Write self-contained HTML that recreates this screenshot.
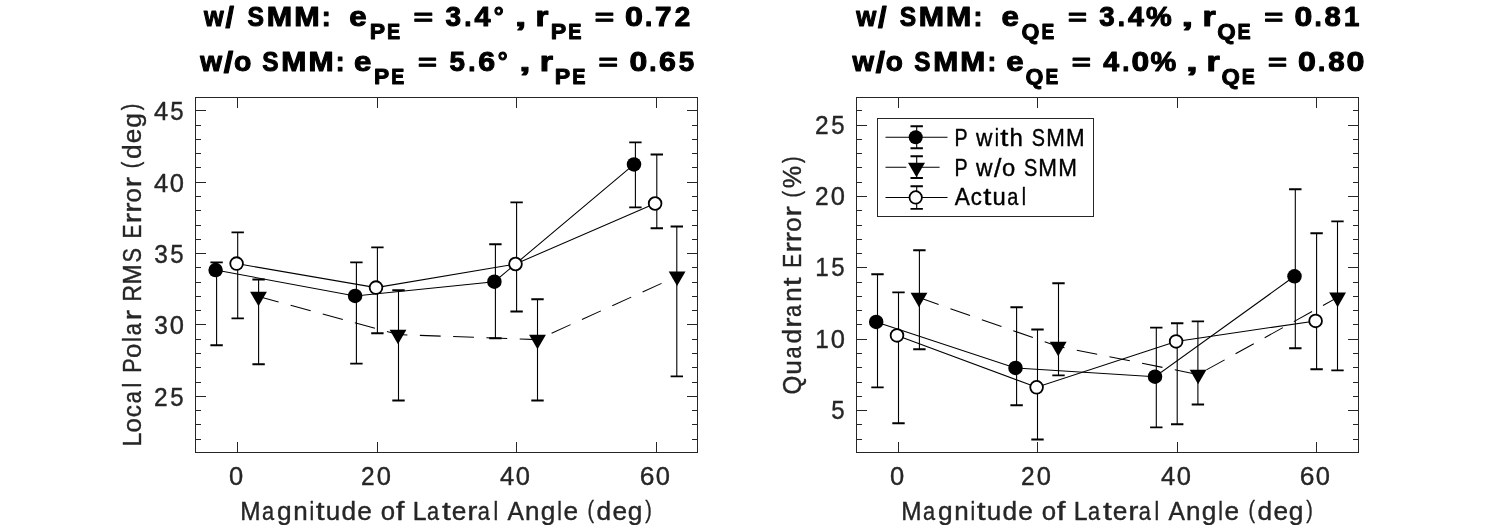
<!DOCTYPE html>
<html><head><meta charset="utf-8"><title>Error comparison</title>
<style>html,body{margin:0;padding:0;background:#fff}svg{display:block;will-change:transform}text{font-family:"Liberation Sans",sans-serif;font-kerning:none;white-space:pre;stroke-linejoin:round}</style>
</head><body>
<svg width="1500" height="525" viewBox="0 0 1500 525">
<rect width="1500" height="525" fill="#fff"/>
<rect x="195.5" y="97.5" width="502.0" height="355.0" fill="#fff" stroke="#262626" stroke-width="1"/>
<path d="M195.5 110.5h10.5M697.5 110.5h-10.5M195.5 125.5h5.5M697.5 125.5h-5.5M195.5 139.5h5.5M697.5 139.5h-5.5M195.5 153.5h5.5M697.5 153.5h-5.5M195.5 167.5h5.5M697.5 167.5h-5.5M195.5 182.5h10.5M697.5 182.5h-10.5M195.5 196.5h5.5M697.5 196.5h-5.5M195.5 210.5h5.5M697.5 210.5h-5.5M195.5 225.5h5.5M697.5 225.5h-5.5M195.5 239.5h5.5M697.5 239.5h-5.5M195.5 253.5h10.5M697.5 253.5h-10.5M195.5 267.5h5.5M697.5 267.5h-5.5M195.5 282.5h5.5M697.5 282.5h-5.5M195.5 296.5h5.5M697.5 296.5h-5.5M195.5 310.5h5.5M697.5 310.5h-5.5M195.5 324.5h10.5M697.5 324.5h-10.5M195.5 339.5h5.5M697.5 339.5h-5.5M195.5 353.5h5.5M697.5 353.5h-5.5M195.5 367.5h5.5M697.5 367.5h-5.5M195.5 382.5h5.5M697.5 382.5h-5.5M195.5 396.5h10.5M697.5 396.5h-10.5M195.5 410.5h5.5M697.5 410.5h-5.5M195.5 424.5h5.5M697.5 424.5h-5.5M195.5 439.5h5.5M697.5 439.5h-5.5M237.5 452.5v-10.5M237.5 97.5v10.5M377.5 452.5v-10.5M377.5 97.5v10.5M516.5 452.5v-10.5M516.5 97.5v10.5M656.5 452.5v-10.5M656.5 97.5v10.5" stroke="#262626" stroke-width="1" fill="none"/>
<polyline points="215.6,270.1 355.1,295.9 494.4,281.7 634.0,164.4" stroke="#000" stroke-width="1.05" fill="none"/>
<path d="M216.6 262.4V345.3M356.4 262.4V363.6M495.4 244.3V338.3M635.4 142.4V207.4" stroke="#000" stroke-width="1.1" fill="none"/>
<path d="M210.40 262.4h12.4M210.40 345.3h12.4M350.20 262.4h12.4M350.20 363.6h12.4M489.20 244.3h12.4M489.20 338.3h12.4M629.20 142.4h12.4M629.20 207.4h12.4" stroke="#000" stroke-width="1.9" fill="none"/>
<circle cx="215.6" cy="270.1" r="7.25" fill="#000"/>
<circle cx="355.1" cy="295.9" r="7.25" fill="#000"/>
<circle cx="494.4" cy="281.7" r="7.25" fill="#000"/>
<circle cx="634.0" cy="164.4" r="7.25" fill="#000"/>
<polyline points="258.5,296.5 398.0,334.6 537.5,339.6 677.1,276.3" stroke="#000" stroke-width="1.05" fill="none" stroke-dasharray="20.8 12.5"/>
<path d="M258.6 279.5V364.2M398.5 290.3V400.5M537.5 299.3V400.5M676.8 226.5V376.4" stroke="#000" stroke-width="1.1" fill="none"/>
<path d="M252.40 279.5h12.4M252.40 364.2h12.4M392.30 290.3h12.4M392.30 400.5h12.4M531.30 299.3h12.4M531.30 400.5h12.4M670.60 226.5h12.4M670.60 376.4h12.4" stroke="#000" stroke-width="1.9" fill="none"/>
<path d="M250.10 291.63h16.8L258.50 306.23z" fill="#000"/>
<path d="M389.60 329.73h16.8L398.00 344.33z" fill="#000"/>
<path d="M529.10 334.73h16.8L537.50 349.33z" fill="#000"/>
<path d="M668.70 271.43h16.8L677.10 286.03z" fill="#000"/>
<polyline points="236.6,263.6 376.0,287.6 515.5,264.0 655.1,203.5" stroke="#000" stroke-width="1.05" fill="none"/>
<path d="M237.7 232.4V318.4M377.4 247.4V333.3M516.6 202.4V311.5M656.8 154.5V228.3" stroke="#000" stroke-width="1.1" fill="none"/>
<path d="M231.50 232.4h12.4M231.50 318.4h12.4M371.20 247.4h12.4M371.20 333.3h12.4M510.40 202.4h12.4M510.40 311.5h12.4M650.60 154.5h12.4M650.60 228.3h12.4" stroke="#000" stroke-width="1.9" fill="none"/>
<circle cx="236.6" cy="263.6" r="6.35" fill="#fff" stroke="#000" stroke-width="1.8"/>
<circle cx="376.0" cy="287.6" r="6.35" fill="#fff" stroke="#000" stroke-width="1.8"/>
<circle cx="515.5" cy="264.0" r="6.35" fill="#fff" stroke="#000" stroke-width="1.8"/>
<circle cx="655.1" cy="203.5" r="6.35" fill="#fff" stroke="#000" stroke-width="1.8"/>
<rect x="856.5" y="97.5" width="502.0" height="355.0" fill="#fff" stroke="#262626" stroke-width="1"/>
<path d="M856.5 110.5h5.5M1358.5 110.5h-5.5M856.5 125.5h10.5M1358.5 125.5h-10.5M856.5 139.5h5.5M1358.5 139.5h-5.5M856.5 153.5h5.5M1358.5 153.5h-5.5M856.5 167.5h5.5M1358.5 167.5h-5.5M856.5 182.5h5.5M1358.5 182.5h-5.5M856.5 196.5h10.5M1358.5 196.5h-10.5M856.5 210.5h5.5M1358.5 210.5h-5.5M856.5 225.5h5.5M1358.5 225.5h-5.5M856.5 239.5h5.5M1358.5 239.5h-5.5M856.5 253.5h5.5M1358.5 253.5h-5.5M856.5 267.5h10.5M1358.5 267.5h-10.5M856.5 282.5h5.5M1358.5 282.5h-5.5M856.5 296.5h5.5M1358.5 296.5h-5.5M856.5 310.5h5.5M1358.5 310.5h-5.5M856.5 324.5h5.5M1358.5 324.5h-5.5M856.5 339.5h10.5M1358.5 339.5h-10.5M856.5 353.5h5.5M1358.5 353.5h-5.5M856.5 367.5h5.5M1358.5 367.5h-5.5M856.5 382.5h5.5M1358.5 382.5h-5.5M856.5 396.5h5.5M1358.5 396.5h-5.5M856.5 410.5h10.5M1358.5 410.5h-10.5M856.5 424.5h5.5M1358.5 424.5h-5.5M856.5 439.5h5.5M1358.5 439.5h-5.5M898.5 452.5v-10.5M898.5 97.5v10.5M1037.5 452.5v-10.5M1037.5 97.5v10.5M1177.5 452.5v-10.5M1177.5 97.5v10.5M1316.5 452.5v-10.5M1316.5 97.5v10.5" stroke="#262626" stroke-width="1" fill="none"/>
<polyline points="876.2,321.9 1015.5,367.9 1155.0,376.7 1294.5,276.3" stroke="#000" stroke-width="1.05" fill="none"/>
<path d="M877.5 274.3V387.4M1016.6 307.3V405.3M1156.3 327.6V427.4M1295.3 189.3V348.3" stroke="#000" stroke-width="1.1" fill="none"/>
<path d="M871.30 274.3h12.4M871.30 387.4h12.4M1010.40 307.3h12.4M1010.40 405.3h12.4M1150.10 327.6h12.4M1150.10 427.4h12.4M1289.10 189.3h12.4M1289.10 348.3h12.4" stroke="#000" stroke-width="1.9" fill="none"/>
<circle cx="876.2" cy="321.9" r="7.25" fill="#000"/>
<circle cx="1015.5" cy="367.9" r="7.25" fill="#000"/>
<circle cx="1155.0" cy="376.7" r="7.25" fill="#000"/>
<circle cx="1294.5" cy="276.3" r="7.25" fill="#000"/>
<polyline points="919.0,297.6 1058.2,346.5 1198.1,374.5 1337.6,297.4" stroke="#000" stroke-width="1.05" fill="none" stroke-dasharray="20.8 12.5"/>
<path d="M919.4 250.3V349.2M1058.5 283.3V375.4M1197.9 321.4V404.5M1337.5 221.4V370.4" stroke="#000" stroke-width="1.1" fill="none"/>
<path d="M913.20 250.3h12.4M913.20 349.2h12.4M1052.30 283.3h12.4M1052.30 375.4h12.4M1191.70 321.4h12.4M1191.70 404.5h12.4M1331.30 221.4h12.4M1331.30 370.4h12.4" stroke="#000" stroke-width="1.9" fill="none"/>
<path d="M910.60 292.73h16.8L919.00 307.33z" fill="#000"/>
<path d="M1049.80 341.63h16.8L1058.20 356.23z" fill="#000"/>
<path d="M1189.70 369.63h16.8L1198.10 384.23z" fill="#000"/>
<path d="M1329.20 292.53h16.8L1337.60 307.13z" fill="#000"/>
<polyline points="897.0,335.4 1036.6,387.3 1176.1,341.4 1315.6,320.9" stroke="#000" stroke-width="1.05" fill="none"/>
<path d="M898.5 292.4V423.3M1037.5 329.5V439.5M1177.2 323.3V424.3M1316.6 233.3V369.3" stroke="#000" stroke-width="1.1" fill="none"/>
<path d="M892.30 292.4h12.4M892.30 423.3h12.4M1031.30 329.5h12.4M1031.30 439.5h12.4M1171.00 323.3h12.4M1171.00 424.3h12.4M1310.40 233.3h12.4M1310.40 369.3h12.4" stroke="#000" stroke-width="1.9" fill="none"/>
<circle cx="897.0" cy="335.4" r="6.35" fill="#fff" stroke="#000" stroke-width="1.8"/>
<circle cx="1036.6" cy="387.3" r="6.35" fill="#fff" stroke="#000" stroke-width="1.8"/>
<circle cx="1176.1" cy="341.4" r="6.35" fill="#fff" stroke="#000" stroke-width="1.8"/>
<circle cx="1315.6" cy="320.9" r="6.35" fill="#fff" stroke="#000" stroke-width="1.8"/>
<rect x="877.5" y="118.5" width="216" height="98" fill="#fff" stroke="#262626" stroke-width="1"/>
<path d="M885.5 137.2H947.5" stroke="#000" stroke-width="1.05"/>
<path d="M916.7 126.3V148.3" stroke="#000" stroke-width="1.1" fill="none"/>
<path d="M910.50 126.3h12.4M910.50 148.3h12.4" stroke="#000" stroke-width="1.9" fill="none"/>
<circle cx="915.7" cy="137.2" r="7" fill="#000"/>
<path d="M885.5 167.2H947.5" stroke="#000" stroke-width="1.05" stroke-dasharray="20.8 12.5"/>
<path d="M916.7 156.2V178.0" stroke="#000" stroke-width="1.1" fill="none"/>
<path d="M910.50 156.2h12.4M910.50 178.0h12.4" stroke="#000" stroke-width="1.9" fill="none"/>
<path d="M908.00 162.73h17.0L916.50 177.33z" fill="#000"/>
<path d="M885.5 197.4H947.5" stroke="#000" stroke-width="1.05"/>
<path d="M916.7 186.2V208.9" stroke="#000" stroke-width="1.1" fill="none"/>
<path d="M910.50 186.2h12.4M910.50 208.9h12.4" stroke="#000" stroke-width="1.9" fill="none"/>
<circle cx="915.7" cy="197.4" r="6.2" fill="#fff" stroke="#000" stroke-width="1.8"/>
<text transform="translate(955.80 145.70) scale(1 0.9750)" font-size="24.4" fill="#000" stroke="#000" stroke-width="0.4"><tspan x="-1.41" textLength="13.08" lengthAdjust="spacingAndGlyphs">P</tspan></text>
<text transform="translate(975.71 145.70) scale(1 0.9750)" font-size="24.4" fill="#000" stroke="#000" stroke-width="0.4"><tspan x="0.23" textLength="16.41" lengthAdjust="spacingAndGlyphs">w</tspan><tspan x="18.96" textLength="4.22" lengthAdjust="spacingAndGlyphs">i</tspan><tspan x="24.64" textLength="8.11" lengthAdjust="spacingAndGlyphs">t</tspan><tspan x="33.91" textLength="13.37" lengthAdjust="spacingAndGlyphs">h</tspan></text>
<text transform="translate(1032.42 145.70) scale(1 0.9750)" font-size="24.4" fill="#000" stroke="#000" stroke-width="0.4"><tspan x="-0.70" textLength="13.23" lengthAdjust="spacingAndGlyphs">S</tspan><tspan x="13.72" textLength="18.62" lengthAdjust="spacingAndGlyphs">M</tspan><tspan x="33.59" textLength="18.62" lengthAdjust="spacingAndGlyphs">M</tspan></text>
<text transform="translate(955.80 175.50) scale(1 0.9750)" font-size="24.4" fill="#000" stroke="#000" stroke-width="0.4"><tspan x="-1.42" textLength="13.15" lengthAdjust="spacingAndGlyphs">P</tspan></text>
<text transform="translate(975.80 175.50) scale(1 0.9750)" font-size="24.4" fill="#000" stroke="#000" stroke-width="0.4"><tspan x="0.23" textLength="16.49" lengthAdjust="spacingAndGlyphs">w</tspan></text>
<text transform="translate(975.80 177.39) scale(1 1.0325)" font-size="24.4" fill="#000" stroke="#000" stroke-width="0.4"><tspan x="18.15" textLength="7.39" lengthAdjust="spacingAndGlyphs">/</tspan></text>
<text transform="translate(975.80 175.50) scale(1 0.9750)" font-size="24.4" fill="#000" stroke="#000" stroke-width="0.4"><tspan x="26.22" textLength="13.21" lengthAdjust="spacingAndGlyphs">o</tspan></text>
<text transform="translate(1024.58 175.50) scale(1 0.9750)" font-size="24.4" fill="#000" stroke="#000" stroke-width="0.4"><tspan x="-0.70" textLength="13.29" lengthAdjust="spacingAndGlyphs">S</tspan><tspan x="13.79" textLength="18.72" lengthAdjust="spacingAndGlyphs">M</tspan><tspan x="33.75" textLength="18.72" lengthAdjust="spacingAndGlyphs">M</tspan></text>
<text transform="translate(954.70 205.20) scale(1 0.9750)" font-size="24.4" fill="#000" stroke="#000" stroke-width="0.4"><tspan x="0.16" textLength="15.07" lengthAdjust="spacingAndGlyphs">A</tspan><tspan x="16.10" textLength="11.09" lengthAdjust="spacingAndGlyphs">c</tspan><tspan x="28.61" textLength="8.11" lengthAdjust="spacingAndGlyphs">t</tspan><tspan x="37.86" textLength="13.28" lengthAdjust="spacingAndGlyphs">u</tspan><tspan x="52.59" textLength="11.08" lengthAdjust="spacingAndGlyphs">a</tspan><tspan x="67.05" textLength="4.22" lengthAdjust="spacingAndGlyphs">l</tspan></text>
<text transform="translate(154.31 120.25) scale(1 0.9777)" font-size="26.5" fill="#262626" stroke="#262626" stroke-width="0.4"><tspan x="-0.39" textLength="14.22" lengthAdjust="spacingAndGlyphs">4</tspan><tspan x="15.85" textLength="13.36" lengthAdjust="spacingAndGlyphs">5</tspan></text>
<text transform="translate(154.31 191.62) scale(1 0.9777)" font-size="26.5" fill="#262626" stroke="#262626" stroke-width="0.4"><tspan x="-0.39" textLength="14.22" lengthAdjust="spacingAndGlyphs">4</tspan><tspan x="15.54" textLength="14.19" lengthAdjust="spacingAndGlyphs">0</tspan></text>
<text transform="translate(154.99 263.00) scale(1 0.9777)" font-size="26.5" fill="#262626" stroke="#262626" stroke-width="0.4"><tspan x="-0.73" textLength="13.61" lengthAdjust="spacingAndGlyphs">3</tspan><tspan x="15.17" textLength="13.36" lengthAdjust="spacingAndGlyphs">5</tspan></text>
<text transform="translate(154.99 334.38) scale(1 0.9777)" font-size="26.5" fill="#262626" stroke="#262626" stroke-width="0.4"><tspan x="-0.73" textLength="13.61" lengthAdjust="spacingAndGlyphs">3</tspan><tspan x="14.85" textLength="14.19" lengthAdjust="spacingAndGlyphs">0</tspan></text>
<text transform="translate(154.92 405.75) scale(1 0.9777)" font-size="26.5" fill="#262626" stroke="#262626" stroke-width="0.4"><tspan x="-1.03" textLength="13.64" lengthAdjust="spacingAndGlyphs">2</tspan><tspan x="15.24" textLength="13.36" lengthAdjust="spacingAndGlyphs">5</tspan></text>
<text transform="translate(815.92 133.73) scale(1 0.9777)" font-size="26.5" fill="#262626" stroke="#262626" stroke-width="0.4"><tspan x="-1.03" textLength="13.64" lengthAdjust="spacingAndGlyphs">2</tspan><tspan x="15.24" textLength="13.36" lengthAdjust="spacingAndGlyphs">5</tspan></text>
<text transform="translate(815.92 205.10) scale(1 0.9777)" font-size="26.5" fill="#262626" stroke="#262626" stroke-width="0.4"><tspan x="-1.03" textLength="13.64" lengthAdjust="spacingAndGlyphs">2</tspan><tspan x="14.93" textLength="14.19" lengthAdjust="spacingAndGlyphs">0</tspan></text>
<text transform="translate(816.84 276.48) scale(1 0.9777)" font-size="26.5" fill="#262626" stroke="#262626" stroke-width="0.4"><tspan x="-1.65" textLength="13.48" lengthAdjust="spacingAndGlyphs">1</tspan><tspan x="14.33" textLength="13.36" lengthAdjust="spacingAndGlyphs">5</tspan></text>
<text transform="translate(816.84 347.85) scale(1 0.9777)" font-size="26.5" fill="#262626" stroke="#262626" stroke-width="0.4"><tspan x="-1.65" textLength="13.48" lengthAdjust="spacingAndGlyphs">1</tspan><tspan x="14.01" textLength="14.19" lengthAdjust="spacingAndGlyphs">0</tspan></text>
<text transform="translate(831.92 419.23) scale(1 0.9777)" font-size="26.5" fill="#262626" stroke="#262626" stroke-width="0.4"><tspan x="-0.76" textLength="13.36" lengthAdjust="spacingAndGlyphs">5</tspan></text>
<text transform="translate(229.70 485.20) scale(1 0.9777)" font-size="26.5" fill="#262626" stroke="#262626" stroke-width="0.4"><tspan x="-0.80" textLength="14.19" lengthAdjust="spacingAndGlyphs">0</tspan></text>
<text transform="translate(361.93 485.20) scale(1 0.9777)" font-size="26.5" fill="#262626" stroke="#262626" stroke-width="0.4"><tspan x="-1.03" textLength="13.64" lengthAdjust="spacingAndGlyphs">2</tspan><tspan x="14.93" textLength="14.19" lengthAdjust="spacingAndGlyphs">0</tspan></text>
<text transform="translate(500.31 485.20) scale(1 0.9777)" font-size="26.5" fill="#262626" stroke="#262626" stroke-width="0.4"><tspan x="-0.39" textLength="14.22" lengthAdjust="spacingAndGlyphs">4</tspan><tspan x="15.54" textLength="14.19" lengthAdjust="spacingAndGlyphs">0</tspan></text>
<text transform="translate(640.84 485.20) scale(1 0.9777)" font-size="26.5" fill="#262626" stroke="#262626" stroke-width="0.4"><tspan x="-1.14" textLength="14.69" lengthAdjust="spacingAndGlyphs">6</tspan><tspan x="15.01" textLength="14.19" lengthAdjust="spacingAndGlyphs">0</tspan></text>
<text transform="translate(890.70 485.20) scale(1 0.9777)" font-size="26.5" fill="#262626" stroke="#262626" stroke-width="0.4"><tspan x="-0.80" textLength="14.19" lengthAdjust="spacingAndGlyphs">0</tspan></text>
<text transform="translate(1021.93 485.20) scale(1 0.9777)" font-size="26.5" fill="#262626" stroke="#262626" stroke-width="0.4"><tspan x="-1.03" textLength="13.64" lengthAdjust="spacingAndGlyphs">2</tspan><tspan x="14.93" textLength="14.19" lengthAdjust="spacingAndGlyphs">0</tspan></text>
<text transform="translate(1161.31 485.20) scale(1 0.9777)" font-size="26.5" fill="#262626" stroke="#262626" stroke-width="0.4"><tspan x="-0.39" textLength="14.22" lengthAdjust="spacingAndGlyphs">4</tspan><tspan x="15.54" textLength="14.19" lengthAdjust="spacingAndGlyphs">0</tspan></text>
<text transform="translate(1300.84 485.20) scale(1 0.9777)" font-size="26.5" fill="#262626" stroke="#262626" stroke-width="0.4"><tspan x="-1.14" textLength="14.69" lengthAdjust="spacingAndGlyphs">6</tspan><tspan x="15.01" textLength="14.19" lengthAdjust="spacingAndGlyphs">0</tspan></text>
<text transform="translate(242.10 519.50) scale(1 0.9760)" font-size="26.6" fill="#262626" stroke="#262626" stroke-width="0.4"><tspan x="-1.80" textLength="20.28" lengthAdjust="spacingAndGlyphs">M</tspan><tspan x="19.91" textLength="12.08" lengthAdjust="spacingAndGlyphs">a</tspan><tspan x="34.94" textLength="14.63" lengthAdjust="spacingAndGlyphs">g</tspan><tspan x="51.09" textLength="14.48" lengthAdjust="spacingAndGlyphs">n</tspan><tspan x="67.35" textLength="4.67" lengthAdjust="spacingAndGlyphs">i</tspan><tspan x="73.54" textLength="8.86" lengthAdjust="spacingAndGlyphs">t</tspan><tspan x="83.60" textLength="14.48" lengthAdjust="spacingAndGlyphs">u</tspan><tspan x="99.30" textLength="14.63" lengthAdjust="spacingAndGlyphs">d</tspan><tspan x="115.17" textLength="14.56" lengthAdjust="spacingAndGlyphs">e</tspan></text>
<text transform="translate(381.53 519.50) scale(1 0.9760)" font-size="26.6" fill="#262626" stroke="#262626" stroke-width="0.4"><tspan x="-0.88" textLength="14.32" lengthAdjust="spacingAndGlyphs">o</tspan><tspan x="14.26" textLength="8.71" lengthAdjust="spacingAndGlyphs">f</tspan></text>
<text transform="translate(414.68 519.50) scale(1 0.9760)" font-size="26.6" fill="#262626" stroke="#262626" stroke-width="0.4"><tspan x="-1.84" textLength="13.81" lengthAdjust="spacingAndGlyphs">L</tspan><tspan x="12.26" textLength="12.08" lengthAdjust="spacingAndGlyphs">a</tspan><tspan x="27.21" textLength="8.86" lengthAdjust="spacingAndGlyphs">t</tspan><tspan x="37.09" textLength="14.56" lengthAdjust="spacingAndGlyphs">e</tspan><tspan x="52.47" textLength="10.14" lengthAdjust="spacingAndGlyphs">r</tspan><tspan x="63.09" textLength="12.08" lengthAdjust="spacingAndGlyphs">a</tspan><tspan x="78.78" textLength="4.67" lengthAdjust="spacingAndGlyphs">l</tspan></text>
<text transform="translate(507.41 519.50) scale(1 0.9760)" font-size="26.6" fill="#262626" stroke="#262626" stroke-width="0.4"><tspan x="0.15" textLength="16.41" lengthAdjust="spacingAndGlyphs">A</tspan><tspan x="17.66" textLength="14.48" lengthAdjust="spacingAndGlyphs">n</tspan><tspan x="33.25" textLength="14.63" lengthAdjust="spacingAndGlyphs">g</tspan><tspan x="49.80" textLength="4.67" lengthAdjust="spacingAndGlyphs">l</tspan><tspan x="56.08" textLength="14.56" lengthAdjust="spacingAndGlyphs">e</tspan></text>
<text transform="translate(588.52 517.93) scale(1 0.8841)" font-size="26.6" fill="#262626" stroke="#262626" stroke-width="0.4"><tspan x="-1.02" textLength="6.54" lengthAdjust="spacingAndGlyphs">(</tspan></text>
<text transform="translate(588.52 519.50) scale(1 0.9760)" font-size="26.6" fill="#262626" stroke="#262626" stroke-width="0.4"><tspan x="8.09" textLength="14.63" lengthAdjust="spacingAndGlyphs">d</tspan><tspan x="23.96" textLength="14.56" lengthAdjust="spacingAndGlyphs">e</tspan><tspan x="39.36" textLength="14.63" lengthAdjust="spacingAndGlyphs">g</tspan></text>
<text transform="translate(588.52 517.93) scale(1 0.8841)" font-size="26.6" fill="#262626" stroke="#262626" stroke-width="0.4"><tspan x="56.86" textLength="6.54" lengthAdjust="spacingAndGlyphs">)</tspan></text>
<text transform="translate(903.10 519.50) scale(1 0.9760)" font-size="26.6" fill="#262626" stroke="#262626" stroke-width="0.4"><tspan x="-1.80" textLength="20.28" lengthAdjust="spacingAndGlyphs">M</tspan><tspan x="19.91" textLength="12.08" lengthAdjust="spacingAndGlyphs">a</tspan><tspan x="34.94" textLength="14.63" lengthAdjust="spacingAndGlyphs">g</tspan><tspan x="51.09" textLength="14.48" lengthAdjust="spacingAndGlyphs">n</tspan><tspan x="67.35" textLength="4.67" lengthAdjust="spacingAndGlyphs">i</tspan><tspan x="73.54" textLength="8.86" lengthAdjust="spacingAndGlyphs">t</tspan><tspan x="83.60" textLength="14.48" lengthAdjust="spacingAndGlyphs">u</tspan><tspan x="99.30" textLength="14.63" lengthAdjust="spacingAndGlyphs">d</tspan><tspan x="115.17" textLength="14.56" lengthAdjust="spacingAndGlyphs">e</tspan></text>
<text transform="translate(1042.53 519.50) scale(1 0.9760)" font-size="26.6" fill="#262626" stroke="#262626" stroke-width="0.4"><tspan x="-0.88" textLength="14.32" lengthAdjust="spacingAndGlyphs">o</tspan><tspan x="14.26" textLength="8.71" lengthAdjust="spacingAndGlyphs">f</tspan></text>
<text transform="translate(1075.68 519.50) scale(1 0.9760)" font-size="26.6" fill="#262626" stroke="#262626" stroke-width="0.4"><tspan x="-1.84" textLength="13.81" lengthAdjust="spacingAndGlyphs">L</tspan><tspan x="12.26" textLength="12.08" lengthAdjust="spacingAndGlyphs">a</tspan><tspan x="27.21" textLength="8.86" lengthAdjust="spacingAndGlyphs">t</tspan><tspan x="37.09" textLength="14.56" lengthAdjust="spacingAndGlyphs">e</tspan><tspan x="52.47" textLength="10.14" lengthAdjust="spacingAndGlyphs">r</tspan><tspan x="63.09" textLength="12.08" lengthAdjust="spacingAndGlyphs">a</tspan><tspan x="78.78" textLength="4.67" lengthAdjust="spacingAndGlyphs">l</tspan></text>
<text transform="translate(1168.41 519.50) scale(1 0.9760)" font-size="26.6" fill="#262626" stroke="#262626" stroke-width="0.4"><tspan x="0.15" textLength="16.41" lengthAdjust="spacingAndGlyphs">A</tspan><tspan x="17.66" textLength="14.48" lengthAdjust="spacingAndGlyphs">n</tspan><tspan x="33.25" textLength="14.63" lengthAdjust="spacingAndGlyphs">g</tspan><tspan x="49.80" textLength="4.67" lengthAdjust="spacingAndGlyphs">l</tspan><tspan x="56.08" textLength="14.56" lengthAdjust="spacingAndGlyphs">e</tspan></text>
<text transform="translate(1249.52 517.93) scale(1 0.8841)" font-size="26.6" fill="#262626" stroke="#262626" stroke-width="0.4"><tspan x="-1.02" textLength="6.54" lengthAdjust="spacingAndGlyphs">(</tspan></text>
<text transform="translate(1249.52 519.50) scale(1 0.9760)" font-size="26.6" fill="#262626" stroke="#262626" stroke-width="0.4"><tspan x="8.09" textLength="14.63" lengthAdjust="spacingAndGlyphs">d</tspan><tspan x="23.96" textLength="14.56" lengthAdjust="spacingAndGlyphs">e</tspan><tspan x="39.36" textLength="14.63" lengthAdjust="spacingAndGlyphs">g</tspan></text>
<text transform="translate(1249.52 517.93) scale(1 0.8841)" font-size="26.6" fill="#262626" stroke="#262626" stroke-width="0.4"><tspan x="56.86" textLength="6.54" lengthAdjust="spacingAndGlyphs">)</tspan></text>
<text transform="translate(140.70 444.60) rotate(-90) scale(1 0.9760)" font-size="26.6" fill="#262626" stroke="#262626" stroke-width="0.4"><tspan x="-1.84" textLength="13.85" lengthAdjust="spacingAndGlyphs">L</tspan><tspan x="12.02" textLength="14.37" lengthAdjust="spacingAndGlyphs">o</tspan><tspan x="27.43" textLength="12.13" lengthAdjust="spacingAndGlyphs">c</tspan><tspan x="41.45" textLength="12.12" lengthAdjust="spacingAndGlyphs">a</tspan><tspan x="57.19" textLength="4.69" lengthAdjust="spacingAndGlyphs">l</tspan></text>
<text transform="translate(140.70 371.14) rotate(-90) scale(1 0.9760)" font-size="26.6" fill="#262626" stroke="#262626" stroke-width="0.4"><tspan x="-1.56" textLength="14.30" lengthAdjust="spacingAndGlyphs">P</tspan><tspan x="13.17" textLength="14.37" lengthAdjust="spacingAndGlyphs">o</tspan><tspan x="29.17" textLength="4.69" lengthAdjust="spacingAndGlyphs">l</tspan><tspan x="35.78" textLength="12.12" lengthAdjust="spacingAndGlyphs">a</tspan><tspan x="50.83" textLength="10.17" lengthAdjust="spacingAndGlyphs">r</tspan></text>
<text transform="translate(140.70 300.00) rotate(-90) scale(1 0.9760)" font-size="26.6" fill="#262626" stroke="#262626" stroke-width="0.4"><tspan x="-1.71" textLength="16.85" lengthAdjust="spacingAndGlyphs">R</tspan><tspan x="15.63" textLength="20.35" lengthAdjust="spacingAndGlyphs">M</tspan><tspan x="37.50" textLength="14.46" lengthAdjust="spacingAndGlyphs">S</tspan></text>
<text transform="translate(140.70 237.00) rotate(-90) scale(1 0.9760)" font-size="26.6" fill="#262626" stroke="#262626" stroke-width="0.4"><tspan x="-1.52" textLength="14.01" lengthAdjust="spacingAndGlyphs">E</tspan><tspan x="13.84" textLength="10.17" lengthAdjust="spacingAndGlyphs">r</tspan><tspan x="24.16" textLength="10.17" lengthAdjust="spacingAndGlyphs">r</tspan><tspan x="34.53" textLength="14.37" lengthAdjust="spacingAndGlyphs">o</tspan><tspan x="49.83" textLength="10.17" lengthAdjust="spacingAndGlyphs">r</tspan></text>
<text transform="translate(139.13 167.17) rotate(-90) scale(1 0.8841)" font-size="26.6" fill="#262626" stroke="#262626" stroke-width="0.4"><tspan x="-1.02" textLength="6.56" lengthAdjust="spacingAndGlyphs">(</tspan></text>
<text transform="translate(140.70 167.17) rotate(-90) scale(1 0.9760)" font-size="26.6" fill="#262626" stroke="#262626" stroke-width="0.4"><tspan x="8.11" textLength="14.68" lengthAdjust="spacingAndGlyphs">d</tspan><tspan x="24.03" textLength="14.60" lengthAdjust="spacingAndGlyphs">e</tspan><tspan x="39.48" textLength="14.68" lengthAdjust="spacingAndGlyphs">g</tspan></text>
<text transform="translate(139.13 167.17) rotate(-90) scale(1 0.8841)" font-size="26.6" fill="#262626" stroke="#262626" stroke-width="0.4"><tspan x="57.03" textLength="6.56" lengthAdjust="spacingAndGlyphs">)</tspan></text>
<text transform="translate(801.30 393.60) rotate(-90) scale(1 0.9760)" font-size="26.6" fill="#262626" stroke="#262626" stroke-width="0.4"><tspan x="-0.95" textLength="18.83" lengthAdjust="spacingAndGlyphs">Q</tspan><tspan x="18.97" textLength="14.51" lengthAdjust="spacingAndGlyphs">u</tspan><tspan x="35.00" textLength="12.11" lengthAdjust="spacingAndGlyphs">a</tspan><tspan x="50.06" textLength="14.66" lengthAdjust="spacingAndGlyphs">d</tspan><tspan x="65.96" textLength="10.17" lengthAdjust="spacingAndGlyphs">r</tspan><tspan x="76.60" textLength="12.11" lengthAdjust="spacingAndGlyphs">a</tspan><tspan x="91.93" textLength="14.51" lengthAdjust="spacingAndGlyphs">n</tspan><tspan x="107.46" textLength="8.88" lengthAdjust="spacingAndGlyphs">t</tspan></text>
<text transform="translate(801.30 266.26) rotate(-90) scale(1 0.9760)" font-size="26.6" fill="#262626" stroke="#262626" stroke-width="0.4"><tspan x="-1.52" textLength="14.00" lengthAdjust="spacingAndGlyphs">E</tspan><tspan x="13.83" textLength="10.17" lengthAdjust="spacingAndGlyphs">r</tspan><tspan x="24.14" textLength="10.17" lengthAdjust="spacingAndGlyphs">r</tspan><tspan x="34.50" textLength="14.35" lengthAdjust="spacingAndGlyphs">o</tspan><tspan x="49.79" textLength="10.17" lengthAdjust="spacingAndGlyphs">r</tspan></text>
<text transform="translate(799.73 196.48) rotate(-90) scale(1 0.8841)" font-size="26.6" fill="#262626" stroke="#262626" stroke-width="0.4"><tspan x="-1.02" textLength="6.56" lengthAdjust="spacingAndGlyphs">(</tspan></text>
<text transform="translate(801.30 196.48) rotate(-90) scale(1 0.9760)" font-size="26.6" fill="#262626" stroke="#262626" stroke-width="0.4"><tspan x="8.31" textLength="22.46" lengthAdjust="spacingAndGlyphs">%</tspan></text>
<text transform="translate(799.73 196.48) rotate(-90) scale(1 0.8841)" font-size="26.6" fill="#262626" stroke="#262626" stroke-width="0.4"><tspan x="33.55" textLength="6.56" lengthAdjust="spacingAndGlyphs">)</tspan></text>
<text transform="translate(203.50 26.35) scale(1 0.9460)" font-size="29.0" font-weight="bold" fill="#000" stroke="#000" stroke-width="1.1"><tspan x="0.62" textLength="19.69" lengthAdjust="spacingAndGlyphs">w</tspan></text>
<text transform="translate(203.50 28.32) scale(1 0.9918)" font-size="29.0" font-weight="bold" fill="#000" stroke="#000" stroke-width="1.1"><tspan x="22.01" textLength="8.44" lengthAdjust="spacingAndGlyphs">/</tspan></text>
<text transform="translate(247.70 26.35) scale(1 0.9460)" font-size="29.0" font-weight="bold" fill="#000" stroke="#000" stroke-width="1.1"><tspan x="-0.16" textLength="16.48" lengthAdjust="spacingAndGlyphs">S</tspan><tspan x="18.97" textLength="25.40" lengthAdjust="spacingAndGlyphs">M</tspan><tspan x="46.48" textLength="25.40" lengthAdjust="spacingAndGlyphs">M</tspan><tspan x="74.00" textLength="8.93" lengthAdjust="spacingAndGlyphs">:</tspan></text>
<text transform="translate(350.00 26.35) scale(1 0.9460)" font-size="29.0" font-weight="bold" fill="#000" stroke="#000" stroke-width="1.1"><tspan x="-0.67" textLength="17.39" lengthAdjust="spacingAndGlyphs">e</tspan></text>
<text transform="translate(370.80 39.00) scale(1 0.9381)" font-size="23.3" font-weight="bold" fill="#000" stroke="#000" stroke-width="1.0"><tspan x="-1.04" textLength="15.33" lengthAdjust="spacingAndGlyphs">P</tspan><tspan x="16.28" textLength="13.19" lengthAdjust="spacingAndGlyphs">E</tspan></text>
<text transform="translate(414.40 25.47) scale(1 0.7444)" font-size="29.0" font-weight="bold" fill="#000" stroke="#000" stroke-width="1.1"><tspan x="-0.84" textLength="19.56" lengthAdjust="spacingAndGlyphs">=</tspan></text>
<text transform="translate(445.50 26.35) scale(1 0.9460)" font-size="29.0" font-weight="bold" fill="#000" stroke="#000" stroke-width="1.1"><tspan x="-0.09" textLength="15.55" lengthAdjust="spacingAndGlyphs">3</tspan><tspan x="18.73" textLength="7.28" lengthAdjust="spacingAndGlyphs">.</tspan><tspan x="28.89" textLength="16.01" lengthAdjust="spacingAndGlyphs">4</tspan></text>
<text transform="translate(445.50 24.59) scale(1 0.8755)" font-size="29.0" font-weight="bold" fill="#000" stroke="#000" stroke-width="1.1"><tspan x="48.38" textLength="9.94" lengthAdjust="spacingAndGlyphs">°</tspan></text>
<text transform="translate(517.10 26.18) scale(1 0.9050)" font-size="29.0" font-weight="bold" fill="#000" stroke="#000" stroke-width="1.1"><tspan x="-2.20" textLength="11.26" lengthAdjust="spacingAndGlyphs">,</tspan></text>
<text transform="translate(537.00 26.35) scale(1 0.9460)" font-size="29.0" font-weight="bold" fill="#000" stroke="#000" stroke-width="1.1"><tspan x="-1.63" textLength="12.88" lengthAdjust="spacingAndGlyphs">r</tspan></text>
<text transform="translate(551.80 39.00) scale(1 0.9381)" font-size="23.3" font-weight="bold" fill="#000" stroke="#000" stroke-width="1.0"><tspan x="-1.05" textLength="15.44" lengthAdjust="spacingAndGlyphs">P</tspan><tspan x="16.39" textLength="13.29" lengthAdjust="spacingAndGlyphs">E</tspan></text>
<text transform="translate(595.60 25.47) scale(1 0.7444)" font-size="29.0" font-weight="bold" fill="#000" stroke="#000" stroke-width="1.1"><tspan x="-0.82" textLength="19.33" lengthAdjust="spacingAndGlyphs">=</tspan></text>
<text transform="translate(625.80 26.35) scale(1 0.9460)" font-size="29.0" font-weight="bold" fill="#000" stroke="#000" stroke-width="1.1"><tspan x="-0.72" textLength="17.91" lengthAdjust="spacingAndGlyphs">0</tspan><tspan x="19.28" textLength="7.30" lengthAdjust="spacingAndGlyphs">.</tspan><tspan x="29.22" textLength="16.50" lengthAdjust="spacingAndGlyphs">7</tspan><tspan x="48.89" textLength="15.47" lengthAdjust="spacingAndGlyphs">2</tspan></text>
<text transform="translate(199.50 71.35) scale(1 0.9460)" font-size="29.0" font-weight="bold" fill="#000" stroke="#000" stroke-width="1.1"><tspan x="0.63" textLength="21.80" lengthAdjust="spacingAndGlyphs">w</tspan></text>
<text transform="translate(199.50 73.32) scale(1 0.9918)" font-size="29.0" font-weight="bold" fill="#000" stroke="#000" stroke-width="1.1"><tspan x="24.19" textLength="9.41" lengthAdjust="spacingAndGlyphs">/</tspan></text>
<text transform="translate(199.50 71.35) scale(1 0.9460)" font-size="29.0" font-weight="bold" fill="#000" stroke="#000" stroke-width="1.1"><tspan x="34.43" textLength="17.33" lengthAdjust="spacingAndGlyphs">o</tspan></text>
<text transform="translate(262.40 71.35) scale(1 0.9460)" font-size="29.0" font-weight="bold" fill="#000" stroke="#000" stroke-width="1.1"><tspan x="-0.15" textLength="16.30" lengthAdjust="spacingAndGlyphs">S</tspan><tspan x="18.79" textLength="25.13" lengthAdjust="spacingAndGlyphs">M</tspan><tspan x="46.03" textLength="25.13" lengthAdjust="spacingAndGlyphs">M</tspan><tspan x="73.28" textLength="8.82" lengthAdjust="spacingAndGlyphs">:</tspan></text>
<text transform="translate(354.70 71.35) scale(1 0.9460)" font-size="29.0" font-weight="bold" fill="#000" stroke="#000" stroke-width="1.1"><tspan x="-0.67" textLength="17.39" lengthAdjust="spacingAndGlyphs">e</tspan></text>
<text transform="translate(375.10 84.10) scale(1 0.9381)" font-size="23.3" font-weight="bold" fill="#000" stroke="#000" stroke-width="1.0"><tspan x="-1.02" textLength="15.16" lengthAdjust="spacingAndGlyphs">P</tspan><tspan x="16.12" textLength="13.04" lengthAdjust="spacingAndGlyphs">E</tspan></text>
<text transform="translate(418.80 70.47) scale(1 0.7444)" font-size="29.0" font-weight="bold" fill="#000" stroke="#000" stroke-width="1.1"><tspan x="-0.79" textLength="18.87" lengthAdjust="spacingAndGlyphs">=</tspan></text>
<text transform="translate(449.90 71.35) scale(1 0.9460)" font-size="29.0" font-weight="bold" fill="#000" stroke="#000" stroke-width="1.1"><tspan x="-0.31" textLength="15.46" lengthAdjust="spacingAndGlyphs">5</tspan><tspan x="18.38" textLength="7.25" lengthAdjust="spacingAndGlyphs">.</tspan><tspan x="28.29" textLength="16.89" lengthAdjust="spacingAndGlyphs">6</tspan></text>
<text transform="translate(449.90 69.59) scale(1 0.8755)" font-size="29.0" font-weight="bold" fill="#000" stroke="#000" stroke-width="1.1"><tspan x="47.92" textLength="9.90" lengthAdjust="spacingAndGlyphs">°</tspan></text>
<text transform="translate(521.50 71.18) scale(1 0.9050)" font-size="29.0" font-weight="bold" fill="#000" stroke="#000" stroke-width="1.1"><tspan x="-2.20" textLength="11.26" lengthAdjust="spacingAndGlyphs">,</tspan></text>
<text transform="translate(541.40 71.35) scale(1 0.9460)" font-size="29.0" font-weight="bold" fill="#000" stroke="#000" stroke-width="1.1"><tspan x="-1.70" textLength="13.26" lengthAdjust="spacingAndGlyphs">r</tspan></text>
<text transform="translate(555.80 84.10) scale(1 0.9381)" font-size="23.3" font-weight="bold" fill="#000" stroke="#000" stroke-width="1.0"><tspan x="-1.05" textLength="15.44" lengthAdjust="spacingAndGlyphs">P</tspan><tspan x="16.39" textLength="13.29" lengthAdjust="spacingAndGlyphs">E</tspan></text>
<text transform="translate(599.40 70.47) scale(1 0.7444)" font-size="29.0" font-weight="bold" fill="#000" stroke="#000" stroke-width="1.1"><tspan x="-0.82" textLength="19.33" lengthAdjust="spacingAndGlyphs">=</tspan></text>
<text transform="translate(630.10 71.35) scale(1 0.9460)" font-size="29.0" font-weight="bold" fill="#000" stroke="#000" stroke-width="1.1"><tspan x="-0.71" textLength="17.77" lengthAdjust="spacingAndGlyphs">0</tspan><tspan x="19.15" textLength="7.23" lengthAdjust="spacingAndGlyphs">.</tspan><tspan x="29.03" textLength="16.86" lengthAdjust="spacingAndGlyphs">6</tspan><tspan x="48.59" textLength="15.43" lengthAdjust="spacingAndGlyphs">5</tspan></text>
<text transform="translate(855.60 26.35) scale(1 0.9460)" font-size="29.0" font-weight="bold" fill="#000" stroke="#000" stroke-width="1.1"><tspan x="0.63" textLength="20.02" lengthAdjust="spacingAndGlyphs">w</tspan></text>
<text transform="translate(855.60 28.32) scale(1 0.9918)" font-size="29.0" font-weight="bold" fill="#000" stroke="#000" stroke-width="1.1"><tspan x="22.36" textLength="8.59" lengthAdjust="spacingAndGlyphs">/</tspan></text>
<text transform="translate(899.80 26.35) scale(1 0.9460)" font-size="29.0" font-weight="bold" fill="#000" stroke="#000" stroke-width="1.1"><tspan x="-0.16" textLength="16.41" lengthAdjust="spacingAndGlyphs">S</tspan><tspan x="18.90" textLength="25.30" lengthAdjust="spacingAndGlyphs">M</tspan><tspan x="46.31" textLength="25.30" lengthAdjust="spacingAndGlyphs">M</tspan><tspan x="73.73" textLength="8.89" lengthAdjust="spacingAndGlyphs">:</tspan></text>
<text transform="translate(1002.10 26.35) scale(1 0.9460)" font-size="29.0" font-weight="bold" fill="#000" stroke="#000" stroke-width="1.1"><tspan x="-0.67" textLength="17.39" lengthAdjust="spacingAndGlyphs">e</tspan></text>
<text transform="translate(1022.00 39.00) scale(1 0.9381)" font-size="23.3" font-weight="bold" fill="#000" stroke="#000" stroke-width="1.0"><tspan x="-0.45" textLength="17.93" lengthAdjust="spacingAndGlyphs">Q</tspan><tspan x="19.46" textLength="12.79" lengthAdjust="spacingAndGlyphs">E</tspan></text>
<text transform="translate(1068.80 25.47) scale(1 0.7444)" font-size="29.0" font-weight="bold" fill="#000" stroke="#000" stroke-width="1.1"><tspan x="-0.79" textLength="18.87" lengthAdjust="spacingAndGlyphs">=</tspan></text>
<text transform="translate(1099.30 26.35) scale(1 0.9460)" font-size="29.0" font-weight="bold" fill="#000" stroke="#000" stroke-width="1.1"><tspan x="-0.08" textLength="15.38" lengthAdjust="spacingAndGlyphs">3</tspan><tspan x="18.55" textLength="7.19" lengthAdjust="spacingAndGlyphs">.</tspan><tspan x="28.60" textLength="15.84" lengthAdjust="spacingAndGlyphs">4</tspan><tspan x="46.78" textLength="25.74" lengthAdjust="spacingAndGlyphs">%</tspan></text>
<text transform="translate(1183.80 26.18) scale(1 0.9050)" font-size="29.0" font-weight="bold" fill="#000" stroke="#000" stroke-width="1.1"><tspan x="-2.30" textLength="11.65" lengthAdjust="spacingAndGlyphs">,</tspan></text>
<text transform="translate(1204.10 26.35) scale(1 0.9460)" font-size="29.0" font-weight="bold" fill="#000" stroke="#000" stroke-width="1.1"><tspan x="-1.70" textLength="13.26" lengthAdjust="spacingAndGlyphs">r</tspan></text>
<text transform="translate(1217.60 39.00) scale(1 0.9381)" font-size="23.3" font-weight="bold" fill="#000" stroke="#000" stroke-width="1.0"><tspan x="-0.47" textLength="18.47" lengthAdjust="spacingAndGlyphs">Q</tspan><tspan x="19.99" textLength="13.18" lengthAdjust="spacingAndGlyphs">E</tspan></text>
<text transform="translate(1265.00 25.47) scale(1 0.7444)" font-size="29.0" font-weight="bold" fill="#000" stroke="#000" stroke-width="1.1"><tspan x="-0.80" textLength="18.98" lengthAdjust="spacingAndGlyphs">=</tspan></text>
<text transform="translate(1295.30 26.35) scale(1 0.9460)" font-size="29.0" font-weight="bold" fill="#000" stroke="#000" stroke-width="1.1"><tspan x="-0.71" textLength="17.76" lengthAdjust="spacingAndGlyphs">0</tspan><tspan x="19.14" textLength="7.23" lengthAdjust="spacingAndGlyphs">.</tspan><tspan x="29.18" textLength="16.27" lengthAdjust="spacingAndGlyphs">8</tspan><tspan x="48.65" textLength="15.36" lengthAdjust="spacingAndGlyphs">1</tspan></text>
<text transform="translate(851.80 71.35) scale(1 0.9460)" font-size="29.0" font-weight="bold" fill="#000" stroke="#000" stroke-width="1.1"><tspan x="0.63" textLength="21.53" lengthAdjust="spacingAndGlyphs">w</tspan></text>
<text transform="translate(851.80 73.32) scale(1 0.9918)" font-size="29.0" font-weight="bold" fill="#000" stroke="#000" stroke-width="1.1"><tspan x="23.92" textLength="9.29" lengthAdjust="spacingAndGlyphs">/</tspan></text>
<text transform="translate(851.80 71.35) scale(1 0.9460)" font-size="29.0" font-weight="bold" fill="#000" stroke="#000" stroke-width="1.1"><tspan x="34.03" textLength="17.11" lengthAdjust="spacingAndGlyphs">o</tspan></text>
<text transform="translate(914.50 71.35) scale(1 0.9460)" font-size="29.0" font-weight="bold" fill="#000" stroke="#000" stroke-width="1.1"><tspan x="-0.15" textLength="16.21" lengthAdjust="spacingAndGlyphs">S</tspan><tspan x="18.70" textLength="25.00" lengthAdjust="spacingAndGlyphs">M</tspan><tspan x="45.80" textLength="25.00" lengthAdjust="spacingAndGlyphs">M</tspan><tspan x="72.92" textLength="8.76" lengthAdjust="spacingAndGlyphs">:</tspan></text>
<text transform="translate(1006.80 71.35) scale(1 0.9460)" font-size="29.0" font-weight="bold" fill="#000" stroke="#000" stroke-width="1.1"><tspan x="-0.67" textLength="17.39" lengthAdjust="spacingAndGlyphs">e</tspan></text>
<text transform="translate(1026.00 84.10) scale(1 0.9381)" font-size="23.3" font-weight="bold" fill="#000" stroke="#000" stroke-width="1.0"><tspan x="-0.45" textLength="17.93" lengthAdjust="spacingAndGlyphs">Q</tspan><tspan x="19.46" textLength="12.79" lengthAdjust="spacingAndGlyphs">E</tspan></text>
<text transform="translate(1072.60 70.47) scale(1 0.7444)" font-size="29.0" font-weight="bold" fill="#000" stroke="#000" stroke-width="1.1"><tspan x="-0.81" textLength="19.10" lengthAdjust="spacingAndGlyphs">=</tspan></text>
<text transform="translate(1103.10 71.35) scale(1 0.9460)" font-size="29.0" font-weight="bold" fill="#000" stroke="#000" stroke-width="1.1"><tspan x="0.12" textLength="15.84" lengthAdjust="spacingAndGlyphs">4</tspan><tspan x="19.15" textLength="7.19" lengthAdjust="spacingAndGlyphs">.</tspan><tspan x="28.45" textLength="17.68" lengthAdjust="spacingAndGlyphs">0</tspan><tspan x="47.37" textLength="25.74" lengthAdjust="spacingAndGlyphs">%</tspan></text>
<text transform="translate(1188.20 71.18) scale(1 0.9050)" font-size="29.0" font-weight="bold" fill="#000" stroke="#000" stroke-width="1.1"><tspan x="-2.34" textLength="11.85" lengthAdjust="spacingAndGlyphs">,</tspan></text>
<text transform="translate(1208.30 71.35) scale(1 0.9460)" font-size="29.0" font-weight="bold" fill="#000" stroke="#000" stroke-width="1.1"><tspan x="-1.70" textLength="13.26" lengthAdjust="spacingAndGlyphs">r</tspan></text>
<text transform="translate(1222.00 84.10) scale(1 0.9381)" font-size="23.3" font-weight="bold" fill="#000" stroke="#000" stroke-width="1.0"><tspan x="-0.47" textLength="18.35" lengthAdjust="spacingAndGlyphs">Q</tspan><tspan x="19.87" textLength="13.09" lengthAdjust="spacingAndGlyphs">E</tspan></text>
<text transform="translate(1268.80 70.47) scale(1 0.7444)" font-size="29.0" font-weight="bold" fill="#000" stroke="#000" stroke-width="1.1"><tspan x="-0.80" textLength="18.98" lengthAdjust="spacingAndGlyphs">=</tspan></text>
<text transform="translate(1298.80 71.35) scale(1 0.9460)" font-size="29.0" font-weight="bold" fill="#000" stroke="#000" stroke-width="1.1"><tspan x="-0.72" textLength="17.89" lengthAdjust="spacingAndGlyphs">0</tspan><tspan x="19.26" textLength="7.29" lengthAdjust="spacingAndGlyphs">.</tspan><tspan x="29.37" textLength="16.39" lengthAdjust="spacingAndGlyphs">8</tspan><tspan x="47.68" textLength="17.89" lengthAdjust="spacingAndGlyphs">0</tspan></text>
</svg>
</body></html>
